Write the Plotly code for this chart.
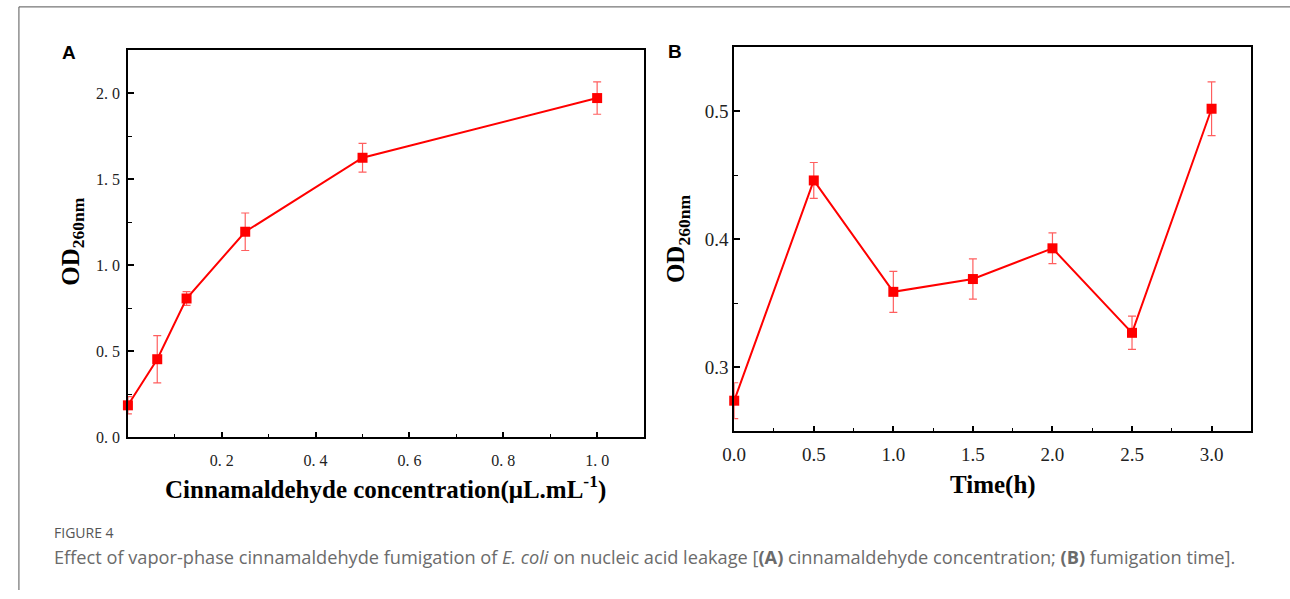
import plotly.graph_objects as go

W, H = 1290, 599

# Panel A data
conc = [0, 0.0625, 0.125, 0.25, 0.5, 1.0]
od_a = [0.186, 0.454, 0.807, 1.195, 1.625, 1.972]
err_a = [0.05, 0.137, 0.04, 0.109, 0.084, 0.094]
a_xticks = [0.2, 0.4, 0.6, 0.8, 1.0]
a_xticktext = ["0. 2", "0. 4", "0. 6", "0. 8", "1. 0"]
a_yticks = [0.0, 0.5, 1.0, 1.5, 2.0]
a_yticktext = ["0. 0", "0. 5", "1. 0", "1. 5", "2. 0"]

# Panel B data
time_h = [0.0, 0.5, 1.0, 1.5, 2.0, 2.5, 3.0]
od_b = [0.274, 0.446, 0.359, 0.369, 0.393, 0.327, 0.502]
err_b = [0.014, 0.014, 0.016, 0.0157, 0.012, 0.013, 0.021]
b_xticks = [0.0, 0.5, 1.0, 1.5, 2.0, 2.5, 3.0]
b_xticktext = ["0.0", "0.5", "1.0", "1.5", "2.0", "2.5", "3.0"]
b_yticks = [0.3, 0.4, 0.5]
b_yticktext = ["0.3", "0.4", "0.5"]

RED = "#ff0000"
ERR = "rgba(255,40,40,0.75)"

def px(x):
    return x / W

def py(y):
    return 1 - y / H

fig = go.Figure()
fig.add_trace(go.Scatter(
    x=conc, y=od_a, mode="lines+markers", xaxis="x", yaxis="y",
    line=dict(color=RED, width=2),
    marker=dict(symbol="square", size=10, color=RED),
    error_y=dict(type="data", array=err_a, color=ERR, thickness=1.2, width=4),
    showlegend=False, cliponaxis=False,
))
fig.add_trace(go.Scatter(
    x=time_h, y=od_b, mode="lines+markers", xaxis="x2", yaxis="y2",
    line=dict(color=RED, width=2),
    marker=dict(symbol="square", size=10, color=RED),
    error_y=dict(type="data", array=err_b, color=ERR, thickness=1.2, width=4),
    showlegend=False, cliponaxis=False,
))

tickfont_a = dict(family="Liberation Serif, serif", size=16, color="#222")
tickfont_b = dict(family="Liberation Serif, serif", size=19, color="#222")
common = dict(showline=True, linecolor="black", linewidth=1.6, mirror=True,
              ticks="inside", tickcolor="black", tickwidth=1.5, ticklen=6,
              showgrid=False, zeroline=False)
minor_common = dict(ticks="inside", ticklen=4, tickcolor="black", tickwidth=1.2)

fig.update_layout(
    width=W, height=H, margin=dict(l=0, r=0, t=0, b=0),
    paper_bgcolor="white", plot_bgcolor="white",
    xaxis=dict(domain=[px(117), px(638)], range=[0, 1.1], anchor="y",
               tickvals=a_xticks, ticktext=a_xticktext, tickfont=tickfont_a,
               ticklabelstandoff=8,
               minor=dict(dtick=0.1, tick0=0, **minor_common), **common),
    yaxis=dict(domain=[py(444), py(51)], range=[0, 2.25], anchor="x",
               tickvals=a_yticks, ticktext=a_yticktext, tickfont=tickfont_a,
               ticklabelstandoff=3,
               minor=dict(dtick=0.25, tick0=0, **minor_common), **common),
    xaxis2=dict(domain=[px(729), px(1251)], range=[0, 3.25], anchor="y2",
                tickvals=b_xticks, ticktext=b_xticktext, tickfont=tickfont_b,
                ticklabelstandoff=5,
                minor=dict(dtick=0.25, tick0=0, **minor_common), **common),
    yaxis2=dict(domain=[py(438), py(48)], range=[0.25, 0.55], anchor="x2",
                tickvals=b_yticks, ticktext=b_yticktext, tickfont=tickfont_b,
                minor=dict(dtick=0.05, tick0=0.25, **minor_common), **common),
)

title_font = dict(family="Liberation Serif, serif", size=25, color="black")


def note(x, y, text, font, xanchor="center", yanchor="middle", angle=0):
    return dict(x=px(x), y=py(y), text=text, font=font, textangle=angle,
                xanchor=xanchor, yanchor=yanchor, showarrow=False,
                xref="paper", yref="paper")


ann = [
    note(61, 245, "<b>OD<sub>260nm</sub></b>", title_font, angle=-90),
    note(672, 243, "<b>OD<sub>260nm</sub></b>", title_font, angle=-90),
    note(377, 495, "<b>Cinnamaldehyde concentration(μL.mL<sup>-1</sup>)</b>", title_font),
    note(990, 492, "<b>Time(h)</b>", title_font),
    note(58, 53, "<b>A</b>", dict(family="Liberation Sans, Arial", size=19, color="black")),
    note(669, 52, "<b>B</b>", dict(family="Liberation Sans, Arial", size=19, color="black")),
    note(40, 541, "FIGURE 4", dict(family="Open Sans, sans-serif", size=14, color="#555"),
         xanchor="left"),
    note(40, 565,
         "Effect of vapor-phase cinnamaldehyde fumigation of <i>E. coli</i> on nucleic acid leakage "
         "[<b>(A)</b> cinnamaldehyde concentration; <b>(B)</b> fumigation time].",
         dict(family="Open Sans, sans-serif", size=18.2, color="#6b6b6b"), xanchor="left"),
]
fig.update_layout(annotations=ann)

fig.update_layout(shapes=[
    dict(type="line", xref="paper", yref="paper", x0=px(7), x1=1, y0=py(7), y1=py(7),
         line=dict(color="#555", width=1)),
    dict(type="line", xref="paper", yref="paper", x0=px(7), x1=px(7), y0=py(7), y1=0,
         line=dict(color="#555", width=1)),
])

fig.write_html("out.html")
